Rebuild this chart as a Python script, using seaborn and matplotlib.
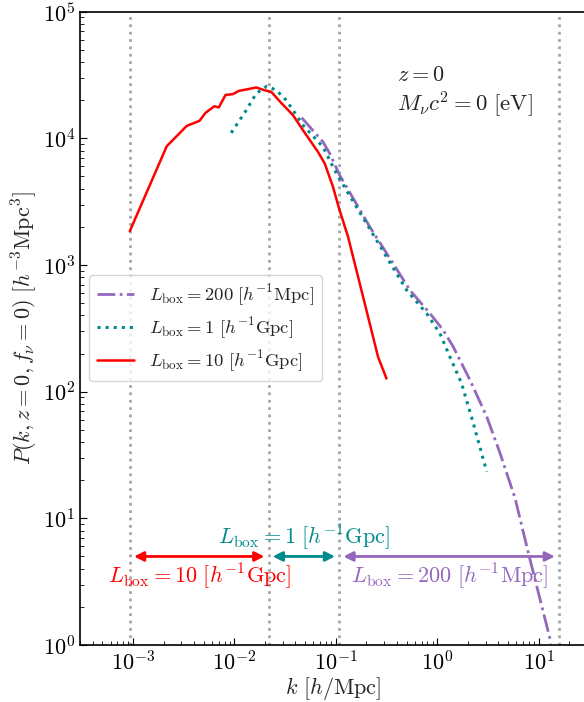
import numpy as np
import pandas as pd
import matplotlib
matplotlib.use("Agg")
import matplotlib.pyplot as plt
import seaborn as sns

# ---- data ----
k_200 = [0.046, 0.0747, 0.0871, 0.109, 0.216, 0.367, 0.537, 0.847, 1.146, 1.44,
         2.10, 3.08, 4.17, 5.86, 8.06, 13.3]
P_200 = [14570, 9380, 7600, 5130, 2003, 1030, 634, 415, 306, 226,
         124, 63.4, 32.6, 14.4, 5.04, 1.03]

k_1g = [0.00929, 0.0131, 0.0164, 0.0209, 0.0259, 0.0325, 0.0474, 0.0747, 0.0975,
        0.127, 0.2006, 0.316, 0.499, 0.786, 1.064, 1.335, 1.74, 2.27, 3.08]
P_1g = [11050, 16700, 22610, 25820, 23990, 20000, 12710, 8570, 5610,
        3900, 2130, 1161, 634, 415, 288, 188, 116, 56.2, 23.3]

k_10g = [0.00093, 0.00215, 0.00339, 0.00452, 0.00518, 0.00636, 0.00701, 0.00817,
         0.00964, 0.01105, 0.0131, 0.0164, 0.0198, 0.0231, 0.0285, 0.0378, 0.0474,
         0.0667, 0.0777, 0.0938, 0.1076, 0.132, 0.1657, 0.208, 0.261, 0.316]
P_10g = [1852, 8670, 12550, 13740, 15890, 17950, 17530, 22030,
         22330, 23710, 24320, 25220, 23990, 23280, 19310, 15240, 11610,
         7820, 6340, 4140, 2800, 1670, 807, 390, 188, 127]

k_lines = [0.00093, 0.0217, 0.108, 15.9]
labels = [r"$L_{\rm box}=200\ [h^{-1}{\rm Mpc}]$",
          r"$L_{\rm box}=1\ [h^{-1}{\rm Gpc}]$",
          r"$L_{\rm box}=10\ [h^{-1}{\rm Gpc}]$"]
colors = ["#9467bd", "darkcyan", "red"]

# ---- style ----
sns.set_style("ticks")
plt.rcParams.update({
    "font.family": "serif",
    "font.serif": ["cmr10", "DejaVu Serif"],
    "mathtext.fontset": "cm",
    "axes.formatter.use_mathtext": True,
    "font.size": 16,
    "axes.linewidth": 1.2,
    "xtick.direction": "in",
    "ytick.direction": "in",
    "xtick.major.size": 5,
    "ytick.major.size": 5,
    "xtick.minor.size": 3,
    "ytick.minor.size": 3,
    "xtick.labelsize": 16,
    "ytick.labelsize": 16,
    "xtick.color": "black",
    "ytick.color": "black",
    "axes.edgecolor": "black",
})

fig = plt.figure(figsize=(5.84, 7.02), dpi=100)
ax = fig.add_axes([80 / 584, 57 / 702, 507 / 584, 633.3 / 702])

for kv in k_lines:
    ax.axvline(kv, color="gray", alpha=0.7, ls=":", lw=2, zorder=1)

sns.lineplot(x=k_200, y=P_200, ax=ax, color=colors[0], linestyle="-.", lw=2,
             label=labels[0], sort=False, estimator=None)
sns.lineplot(x=k_1g, y=P_1g, ax=ax, color=colors[1], linestyle=":", lw=2.2,
             label=labels[1], sort=False, estimator=None)
sns.lineplot(x=k_10g, y=P_10g, ax=ax, color=colors[2], linestyle="-", lw=1.8,
             label=labels[2], sort=False, estimator=None)

ax.set_xscale("log")
ax.set_yscale("log")
ax.set_xlim(3e-4, 30)
ax.set_ylim(1, 1e5)
ax.tick_params(which="both", top=False, right=False)

ax.set_xlabel(r"$k\ [h/{\rm Mpc}]$", fontsize=16, labelpad=1)
ax.set_ylabel(r"$P(k,z=0,f_\nu=0)\ [h^{-3}{\rm Mpc}^3]$", fontsize=16, labelpad=2)

# arrows and labels for box ranges
spans = [(k_lines[0], k_lines[1], colors[2], labels[2], 3.5),
         (k_lines[1], k_lines[2], colors[1], labels[1], 7.1),
         (k_lines[2], k_lines[3], colors[0], labels[0], 3.5)]
for a, b, c, lab, ty in spans:
    ax.annotate("", xy=(b, 5), xytext=(a, 5),
                arrowprops=dict(arrowstyle="<|-|>", color=c, lw=2,
                                shrinkA=3, shrinkB=3, mutation_scale=14))
    ax.text(np.sqrt(a * b), ty, lab, color=c, ha="center", va="center", fontsize=16)

ax.text(0.625, 0.90, r"$z=0$", transform=ax.transAxes, ha="left", va="center", fontsize=16)
ax.text(0.625, 0.853, r"$M_\nu c^2=0\ [{\rm eV}]$", transform=ax.transAxes,
        ha="left", va="center", fontsize=16.5)

ax.legend(loc="center left", fontsize=13.4, frameon=True, labelspacing=0.4)

fig.savefig("out.png", dpi=100)
